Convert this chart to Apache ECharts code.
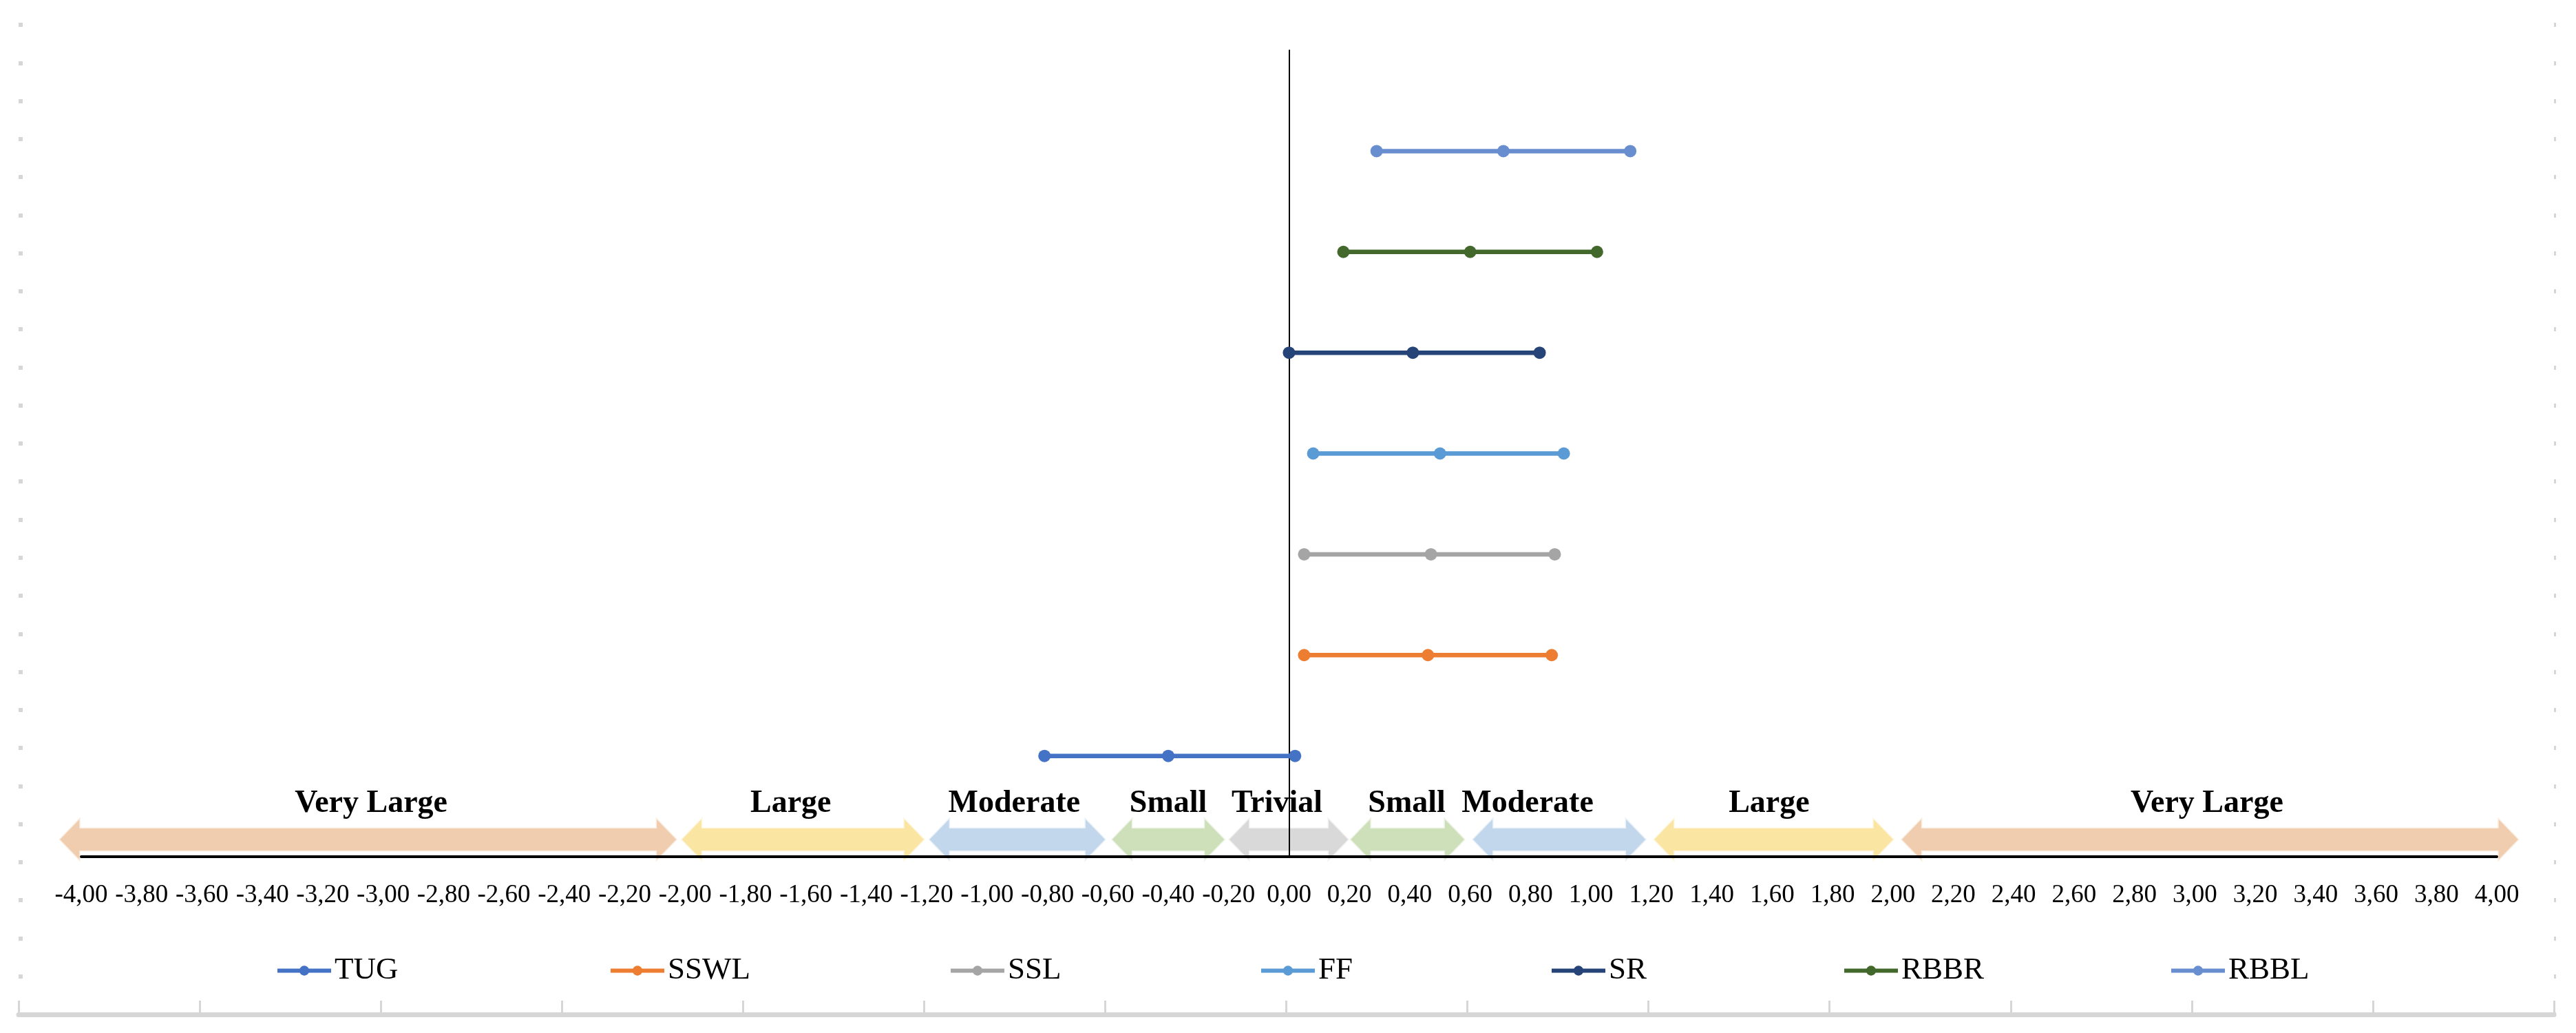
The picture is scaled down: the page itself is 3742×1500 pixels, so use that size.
<!DOCTYPE html>
<html>
<head>
<meta charset="utf-8">
<script src="https://cdn.jsdelivr.net/npm/echarts@6/dist/echarts.min.js"></script>
<style>
html,body{margin:0;padding:0;background:#fff;}
#chart{width:3742px;height:1500px;}
</style>
</head>
<body>
<div id="chart"></div>
<script>
// ---- data ----
const categories = ['TUG', 'SSWL', 'SSL', 'FF', 'SR', 'RBBR', 'RBBL'];
const rowIndex = [1, 2, 3, 4, 5, 6, 7];
const lowerCI = [-0.81, 0.05, 0.05, 0.08, 0.00, 0.18, 0.29];
const effect  = [-0.40, 0.46, 0.47, 0.50, 0.41, 0.60, 0.71];
const upperCI = [0.02, 0.87, 0.88, 0.91, 0.83, 1.02, 1.13];

const bandLabels = ['Very Large', 'Large', 'Moderate', 'Small', 'Trivial', 'Small', 'Moderate', 'Large', 'Very Large'];
const bandStart  = [-4.07, -2.01, -1.19, -0.585, -0.197, 0.205, 0.61, 1.21, 2.03];
const bandEnd    = [-2.03, -1.21, -0.61, -0.215, 0.195, 0.58, 1.18, 2.00, 4.07];
const bandLabelX = [-3.04, -1.65, -0.91, -0.40, -0.04, 0.39, 0.79, 1.59, 3.04];

const xMin = -4, xMax = 4, xStep = 0.2;
const yMin = 0, yMax = 8;

// ---- styles ----
const seriesColors = ['#4472C4', '#ED7D31', '#A5A5A5', '#5B9BD5', '#264478', '#43682B', '#698ED0'];
const bandColorMap = {
  'Very Large': '#F1CDB0',
  'Large': '#FBE5A2',
  'Moderate': '#C3D7EC',
  'Small': '#CDE0B9',
  'Trivial': '#D9D9D9'
};
const FONT = '"Liberation Serif", "Times New Roman", serif';
const legendLeft = [395, 879, 1373, 1824, 2246, 2671, 3146];

const chart = echarts.init(document.getElementById('chart'), null, {renderer: 'canvas'});

const lineSeries = categories.map((name, i) => ({
  name: name,
  type: 'line',
  xAxisIndex: 0,
  yAxisIndex: 0,
  data: [[lowerCI[i], rowIndex[i]], [effect[i], rowIndex[i]], [upperCI[i], rowIndex[i]]],
  symbol: 'circle',
  symbolSize: 18,
  showSymbol: true,
  itemStyle: {color: seriesColors[i]},
  lineStyle: {color: seriesColors[i], width: 6.5},
  z: 5,
  animation: false
}));

const bandData = bandLabels.map((lab, i) => [bandStart[i], bandEnd[i], bandLabelX[i], i]);

const bandSeries = {
  type: 'custom',
  xAxisIndex: 0,
  yAxisIndex: 0,
  clip: false,
  silent: true,
  z: -1,
  animation: false,
  data: bandData,
  encode: {x: [0, 1]},
  renderItem: function (params, api) {
    const s = api.value(0), e = api.value(1), lx = api.value(2), idx = api.value(3);
    const p1 = api.coord([s, 0]);
    const p2 = api.coord([e, 0]);
    const pl = api.coord([lx, 0]);
    const cy = p1[1] - 25;
    const hh = 29, sh = 16, hl = 28;
    const x1 = p1[0], x2 = p2[0];
    const color = bandColorMap[bandLabels[idx]];
    const pts = [
      [x1, cy], [x1 + hl, cy - hh], [x1 + hl, cy - sh], [x2 - hl, cy - sh], [x2 - hl, cy - hh],
      [x2, cy], [x2 - hl, cy + hh], [x2 - hl, cy + sh], [x1 + hl, cy + sh], [x1 + hl, cy + hh]
    ];
    return {
      type: 'group',
      children: [
        {
          type: 'polygon',
          shape: {points: pts},
          style: {fill: color, stroke: echarts.color.modifyAlpha(color, 0.35), lineWidth: 3}
        },
        {
          type: 'text',
          style: {
            text: bandLabels[idx],
            x: pl[0],
            y: cy - 52,
            align: 'center',
            verticalAlign: 'middle',
            font: 'bold 46px ' + FONT,
            fill: '#000'
          }
        }
      ]
    };
  }
};

// frame series (empty) to show outer grey axes
const frameSeries = {
  type: 'line',
  xAxisIndex: 1,
  yAxisIndex: 1,
  data: [],
  silent: true
};

const legends = categories.map((name, i) => ({
  data: [name],
  left: legendLeft[i],
  top: 1382,
  orient: 'horizontal',
  itemWidth: 78,
  itemHeight: 18,
  itemGap: 6,
  lineStyle: {width: 6, opacity: 1},
  itemStyle: {opacity: 1},
  textStyle: {fontFamily: FONT, fontSize: 45, color: '#000'},
  selectedMode: false
}));

const option = {
  backgroundColor: '#ffffff',
  animation: false,
  legend: legends,
  grid: [
    {left: 118, right: 115, top: 73, bottom: 256, containLabel: false},
    {left: 27, right: 32, top: 36, bottom: 27, containLabel: false}
  ],
  xAxis: [
    {
      type: 'value',
      gridIndex: 0,
      min: xMin,
      max: xMax,
      interval: xStep,
      axisLine: {show: true, onZero: true, lineStyle: {color: '#000', width: 4}},
      axisTick: {show: false},
      splitLine: {show: false},
      axisLabel: {
        show: true,
        margin: 38,
        fontFamily: FONT,
        fontSize: 37,
        color: '#000',
        formatter: function (v) {
          const r = Math.round(v * 100) / 100;
          return (Object.is(r, -0) ? 0 : r).toFixed(2).replace('.', ',');
        }
      }
    },
    {
      type: 'category',
      gridIndex: 1,
      data: ['', '', '', '', '', '', '', '', '', '', '', '', '', ''],
      boundaryGap: true,
      axisLine: {show: true, lineStyle: {color: '#D6D6D6', width: 7}},
      axisTick: {show: true, inside: true, length: 20, lineStyle: {color: '#D6D6D6', width: 3}},
      axisLabel: {show: false},
      splitLine: {show: false}
    }
  ],
  yAxis: [
    {
      type: 'value',
      gridIndex: 0,
      min: yMin,
      max: yMax,
      interval: 1,
      axisLine: {show: true, onZero: true, lineStyle: {color: '#000', width: 2}},
      axisTick: {show: false},
      axisLabel: {show: false},
      splitLine: {show: false}
    },
    {
      type: 'value',
      gridIndex: 1,
      position: 'left',
      min: 0,
      max: 26,
      interval: 1,
      axisLine: {show: false},
      axisTick: {show: true, inside: true, length: 6, lineStyle: {color: '#D6D6D6', width: 6}},
      axisLabel: {show: false},
      splitLine: {show: false}
    },
    {
      type: 'value',
      gridIndex: 1,
      position: 'right',
      min: 0,
      max: 26,
      interval: 1,
      axisLine: {show: false},
      axisTick: {show: true, inside: false, length: 3, lineStyle: {color: '#D6D6D6', width: 6}},
      axisLabel: {show: false},
      splitLine: {show: false}
    }
  ],
  series: [bandSeries, frameSeries].concat(lineSeries)
};

chart.setOption(option);
</script>
</body>
</html>
